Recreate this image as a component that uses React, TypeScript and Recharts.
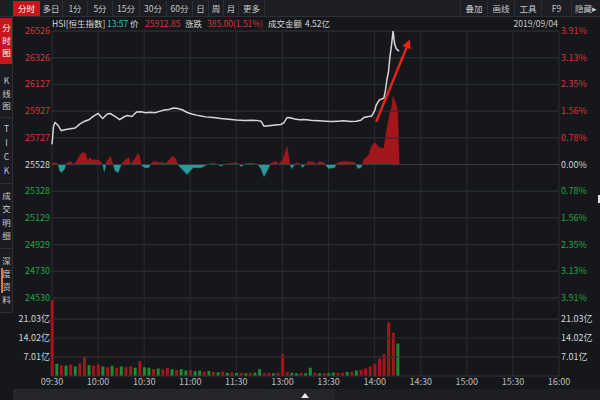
import React from 'react';
import { ComposedChart, Line, Area, Bar, Cell, XAxis, YAxis, CartesianGrid, ReferenceLine } from 'recharts';

const PREV_CLOSE = 25528;

const priceTicks = [24530, 24730, 24929, 25129, 25328, 25528, 25727, 25927, 26127, 26326, 26526];
const volTicks = [7.01, 14.02, 21.03];
const timeLabels = ['09:30', '10:00', '10:30', '11:00', '11:30', '13:00', '13:30', '14:00', '14:30', '15:00', '15:30', '16:00'];
const timeTicks = timeLabels.map((_, i) => i * 30);

// minutes since 09:30, lunch removed (13:00 -> 150)
const priceMinutes = [
  0, 1, 2, 4, 6, 9, 12, 15, 18, 21, 24, 27, 30, 33, 36, 38, 41, 44, 47, 49,
  52, 55, 58, 61, 64, 67, 70, 73, 76, 79, 82, 85, 88, 91, 94, 97, 100, 105, 110, 115,
  120, 125, 130, 134, 136, 138, 141, 144, 147, 149, 151, 153, 155, 158, 161, 164, 167, 170, 174, 178,
  182, 186, 190, 194, 198, 201, 203, 206, 208, 210, 211, 213, 215, 216, 217, 218, 219, 220, 221, 222,
  223, 224, 225, 226,
];
const prices = [
  25678, 25815, 25842, 25820, 25782, 25790, 25795, 25800, 25830, 25850, 25862, 25890, 25909, 25872, 25905, 25909, 25887, 25864, 25885, 25894,
  25887, 25920, 25922, 25915, 25918, 25915, 25925, 25935, 25939, 25950, 25947, 25935, 25917, 25905, 25897, 25890, 25884, 25880, 25872, 25866,
  25860, 25857, 25859, 25856, 25852, 25814, 25818, 25822, 25826, 25827, 25840, 25880, 25878, 25868, 25862, 25864, 25860, 25856, 25855, 25852,
  25850, 25852, 25855, 25850, 25852, 25858, 25880, 25886, 25890, 25930, 25970, 26010, 26020, 26024, 26080, 26163, 26220, 26337, 26420, 26525,
  26430, 26395, 26383, 26375,
];

// red / cyan strength bars around the previous close
const flowMinutes = [
  0, 3, 4, 5, 6, 8, 9, 10, 12, 14, 16, 18, 20, 22, 23, 25, 26, 28, 31, 33,
  34, 35, 36, 38, 39, 40, 41, 43, 45, 48, 50, 51, 54, 56, 57, 58, 60, 63, 64, 65,
  67, 69, 72, 74, 76, 78, 80, 82, 86, 88, 90, 92, 97, 101, 105, 108, 110, 112, 116, 120,
  122, 123, 125, 126, 130, 134, 136, 138, 141, 142, 143, 146, 147, 150, 153, 154, 155, 156, 158, 159,
  162, 163, 165, 167, 171, 172, 174, 177, 178, 180, 184, 185, 186, 191, 197, 198, 199, 201, 202, 203,
  206, 208, 210, 213, 216, 218, 220, 221, 222, 224, 225, 226,
];
const flows = [
  1.5, 1.5, 0, -6, -8, -5, 0, 2, 3, 0, 3, 9, 12, 11, 4, 7, 4, 5, 4, 0,
  -7, 0, 4, 8, 3, 0, -6, -8, 0, 5, 7, 0, 6, 11, 8, 0, -3, -3, 0, 2,
  3, 2, 2, 1, 4, 8, 7, 0, -7, -10, -6, -3, -3, 0, 1.5, 0, -1.5, 0, 1, 2,
  0, -2, 0, 1, 1.5, 0, -4, -12, -3, 0, 2, 3, 0, 4, 18, 8, 0, -4, 0, 2,
  0, -3, 0, 3, 2, 0, 3, 2, 0, -4, -3, 0, 2, 3, 2, 0, -4, -3, 0, 5,
  9, 18, 22, 17, 16, 36, 53, 56, 68, 60, 53, 0,
];

// turnover per 3 minutes, in 亿
const volumes = [
  30, 4.5, 4, 3.8, 4.2, 3.5, 4.6, 7, 4, 3.8, 4.2, 3.5, 3.2, 3.8, 3, 3.5, 3.2, 3.6, 3, 5.5,
  3.2, 3, 2.6, 2.8, 2.4, 3, 2.5, 2.2, 2.6, 2, 2.2, 1.8, 2, 1.6, 1.8, 1.5, 1.4, 1.6, 1.2, 1.3,
  1.1, 1.2, 1, 1.1, 1.2, 2.5, 1, 1.2, 1, 1.2, 8, 1.5, 1.2, 1, 1.1, 1, 3, 1.2, 1, 1.1,
  1, 1.3, 1.1, 1.2, 1.5, 1.6, 2, 2.3, 2.8, 3.5, 4.5, 6.5, 8, 19.7, 16, 12,
];
const volUp = [
  1, 0, 1, 0, 1, 0, 1, 1, 0, 1, 1, 0, 1, 0, 1, 0, 1, 1, 0, 1,
  0, 0, 1, 0, 1, 1, 0, 1, 0, 0, 1, 0, 0, 1, 0, 1, 0, 1, 0, 1,
  0, 1, 0, 1, 0, 0, 1, 1, 0, 1, 1, 1, 0, 0, 1, 0, 0, 1, 0, 1,
  0, 0, 1, 1, 0, 1, 0, 1, 1, 1, 1, 1, 1, 1, 1, 0,
];

const topTabs = ['分时', '多日', '1分', '5分', '15分', '30分', '60分', '日', '周', '月', '更多'];
const topTabWidths = [27, 23, 25, 25, 27, 27, 26, 16, 15, 15, 26];
const rightTabs = ['叠加', '画线', '工具', 'F9', '隐藏▸'];
const rightTabWidths = [27, 27, 27, 30, 29];

const RED = '#dd3239';
const GREEN = '#23a447';
const GRID = '#2a2c31';
const FONT = '"Noto Sans CJK SC", "Noto Sans", sans-serif';

const rowMap = new Map<number, any>();
const rowAt = (t: number) => {
  if (!rowMap.has(t)) rowMap.set(t, { t });
  return rowMap.get(t);
};
priceMinutes.forEach((t, i) => { rowAt(t).price = prices[i]; });
flowMinutes.forEach((t, i) => {
  rowAt(t).pos = Math.max(flows[i], 0);
  rowAt(t).neg = Math.min(flows[i], 0);
});
const priceData = Array.from(rowMap.values()).sort((a, b) => a.t - b.t);

const volData = volumes.map((v, i) => ({ t: i * 3, v, up: volUp[i] }));

const pctText = (v: number) => ((Math.abs(v - PREV_CLOSE) / PREV_CLOSE) * 100).toFixed(2) + '%';
const priceColor = (v: number) => (v > PREV_CLOSE ? RED : v < PREV_CLOSE ? GREEN : '#d4d4d4');

// labels on both sides of a horizontal reference line
const sideLabels = (left: string, right: string, color: string) => (p: any) => {
  const vb = p.viewBox || {};
  return (
    <g>
      <text x={vb.x - 2} y={vb.y} dy={3} textAnchor="end" fill={color} fontSize={9} fontFamily={FONT}>{left}</text>
      <text x={vb.x + vb.width + 2} y={vb.y} dy={3} textAnchor="start" fill={color} fontSize={9} fontFamily={FONT}>{right}</text>
    </g>
  );
};

const ArrowShape = (props: any) => {
  const { x1, y1, x2, y2 } = props;
  if ([x1, y1, x2, y2].some((n) => typeof n !== 'number' || isNaN(n))) return null;
  const dx = x2 - x1;
  const dy = y2 - y1;
  const len = Math.sqrt(dx * dx + dy * dy);
  const ux = dx / len;
  const uy = dy / len;
  const bx = x2 - ux * 9;
  const by = y2 - uy * 9;
  return (
    <g>
      <line x1={x1} y1={y1} x2={bx} y2={by} stroke="#e8241b" strokeWidth={2.4} />
      <polygon
        points={`${x2},${y2} ${bx - uy * 4.5},${by + ux * 4.5} ${bx + uy * 4.5},${by - ux * 4.5}`}
        fill="#e8241b"
      />
    </g>
  );
};

const sideGroups = [
  { chars: ['分', '时', '图'], top: 21, step: 12.5, active: true },
  { chars: ['K', '线', '图'], top: 74, step: 12.5 },
  { chars: ['T', 'I', 'C', 'K'], top: 122, step: 14 },
  { chars: ['成', '交', '明', '细'], top: 189, step: 13.3 },
  { chars: ['深', '度', '资', '料'], top: 254, step: 13 },
];

export default function App() {
  let tabX = 13;
  let rightX = 460;
  return (
    <div
      style={{
        position: 'absolute',
        left: 0,
        top: 0,
        width: 600,
        height: 400,
        background: '#16171b',
        overflow: 'hidden',
        fontFamily: FONT,
        color: '#c8c8c8',
      }}
    >
      {/* toolbar */}
      <div style={{ position: 'absolute', left: 0, top: 0, width: 600, height: 16, background: '#1d1e23', borderBottom: '1px solid #2e2f35' }} />
      {topTabs.map((label, i) => {
        const left = tabX;
        tabX += topTabWidths[i];
        return (
          <div
            key={label}
            style={{
              position: 'absolute',
              left,
              top: 1,
              width: topTabWidths[i],
              height: 15,
              lineHeight: '15px',
              textAlign: 'center',
              fontSize: 8.5,
              color: i === 0 ? '#fff' : '#c8c8c8',
              background: i === 0 ? '#c8161d' : 'transparent',
              borderRight: i === 0 ? 'none' : '1px solid #2e2f35',
              boxSizing: 'border-box',
            }}
          >
            {label}
          </div>
        );
      })}
      {rightTabs.map((label, i) => {
        const left = rightX;
        rightX += rightTabWidths[i];
        return (
          <div
            key={label}
            style={{
              position: 'absolute',
              left,
              top: 1,
              width: rightTabWidths[i],
              height: 15,
              lineHeight: '15px',
              textAlign: 'center',
              fontSize: 8.5,
              borderLeft: '1px solid #2e2f35',
              boxSizing: 'border-box',
            }}
          >
            {label}
          </div>
        );
      })}

      {/* side tabs */}
      <div style={{ position: 'absolute', left: 0, top: 17, width: 12, height: 296, background: '#1b1c21', borderRight: '1px solid #2e2f35' }} />
      <div style={{ position: 'absolute', left: 0, top: 18, width: 12, height: 46, background: '#c8161d' }} />
      {[117, 183, 248, 312].map((y) => (
        <div key={y} style={{ position: 'absolute', left: 0, top: y, width: 12, height: 1, background: '#2e2f35' }} />
      ))}
      <div style={{ position: 'absolute', left: 1, top: 268, width: 2, height: 25, background: '#f07020' }} />
      {sideGroups.map((g, gi) =>
        g.chars.map((c, ci) => (
          <div
            key={gi + '-' + ci}
            style={{
              position: 'absolute',
              left: 0,
              top: g.top + ci * g.step,
              width: 13,
              textAlign: 'center',
              fontSize: 8.5,
              lineHeight: '12px',
              color: g.active ? '#fff' : '#c8c8c8',
            }}
          >
            {c}
          </div>
        ))
      )}

      {/* quote header */}
      <div style={{ position: 'absolute', top: 17, left: 0, width: 600, height: 12, fontSize: 8.5, lineHeight: '12px', whiteSpace: 'nowrap' }}>
        <span style={{ position: 'absolute', left: 52, color: '#d8d8d8' }}>HSI[恒生指数]</span>
        <span style={{ position: 'absolute', left: 107, color: '#35c4c4' }}>13:57</span>
        <span style={{ position: 'absolute', left: 130, color: '#d8d8d8' }}>价</span>
        <span style={{ position: 'absolute', left: 145, color: RED }}>25912.85</span>
        <span style={{ position: 'absolute', left: 185, color: '#d8d8d8' }}>涨跌</span>
        <span style={{ position: 'absolute', left: 207, color: RED }}>385.00(1.51%)</span>
        <span style={{ position: 'absolute', left: 268, color: '#d8d8d8' }}>成交金额</span>
        <span style={{ position: 'absolute', left: 305, color: '#d8d8d8' }}>4.52亿</span>
        <span style={{ position: 'absolute', right: 42, color: '#c8c8c8' }}>2019/09/04</span>
      </div>

      {/* price panel */}
      <div style={{ position: 'absolute', left: 0, top: 0 }}>
        <ComposedChart width={600} height={308} data={priceData} margin={{ top: 31, right: 41, bottom: 10, left: 52 }}>
          <CartesianGrid stroke={GRID} />
          <XAxis type="number" dataKey="t" domain={[0, 330]} ticks={timeTicks} hide />
          <YAxis domain={[priceTicks[0], priceTicks[priceTicks.length - 1]]} ticks={priceTicks} hide />
          <YAxis yAxisId="flow" hide domain={[-133.5, 133.5]} />
          {priceTicks.map((v) => (
            <ReferenceLine
              key={`h-${v}`}
              y={v}
              stroke={v === PREV_CLOSE ? '#3a3c42' : GRID}
              label={sideLabels(String(v), pctText(v), priceColor(v))}
            />
          ))}
          <Area yAxisId="flow" dataKey="pos" baseValue={0} connectNulls type="linear" stroke="#a3161b" strokeWidth={0.5} fill="#a3161b" fillOpacity={1} dot={false} activeDot={false} isAnimationActive={false} />
          <Area yAxisId="flow" dataKey="neg" baseValue={0} connectNulls type="linear" stroke="#2b9a9a" strokeWidth={0.5} fill="#2b9a9a" fillOpacity={1} dot={false} activeDot={false} isAnimationActive={false} />
          <Line dataKey="price" connectNulls type="linear" stroke="#d6d6d6" strokeWidth={1.5} dot={false} activeDot={false} isAnimationActive={false} />
          <ReferenceLine
            segment={[{ x: 211, y: 25848 }, { x: 233, y: 26464 }]}
            shape={(p: any) => <ArrowShape {...p} />}
          />
        </ComposedChart>
      </div>

      {/* turnover panel */}
      <div style={{ position: 'absolute', left: 0, top: 300 }}>
        <ComposedChart width={600} height={100} data={volData} margin={{ top: 0, right: 41, bottom: 0, left: 52 }}>
          <CartesianGrid stroke={GRID} />
          <XAxis
            type="number"
            dataKey="t"
            domain={[0, 330]}
            ticks={timeTicks}
            interval={0}
            height={24}
            tickLine={false}
            axisLine={false}
            tickSize={0}
            tickMargin={3}
            tick={{ fill: '#bdbdbd', fontSize: 9, fontFamily: FONT }}
            tickFormatter={(v: number) => timeLabels[Math.round(v / 30)]}
          />
          <YAxis domain={[0, 28.04]} allowDataOverflow ticks={volTicks} hide />
          {volTicks.map((v) => {
            const txt = v.toFixed(2) + '亿';
            return <ReferenceLine key={`vh-${v}`} y={v} stroke={GRID} label={sideLabels(txt, txt, '#d4d4d4')} />;
          })}
          <ReferenceLine y={0} stroke={GRID} />
          <Bar dataKey="v" barSize={3} isAnimationActive={false}>
            {volData.map((d, i) => (
              <Cell key={`vol-${i}`} fill={d.up ? '#a5161c' : '#1f8a30'} />
            ))}
          </Bar>
        </ComposedChart>
      </div>

      {/* scroll strip */}
      <div style={{ position: 'absolute', left: 13, top: 389, width: 587, height: 11, background: '#1d1e22' }} />
      <div style={{ position: 'absolute', left: 13, top: 389, width: 322, height: 11, background: '#25262b' }} />
      <div style={{ position: 'absolute', left: 301, top: 393, width: 0, height: 0, borderLeft: '4px solid transparent', borderRight: '4px solid transparent', borderBottom: '5px solid #e8e8e8' }} />
      <div style={{ position: 'absolute', left: 598, top: 195, width: 2, height: 8, background: '#e0e0e0' }} />
    </div>
  );
}
